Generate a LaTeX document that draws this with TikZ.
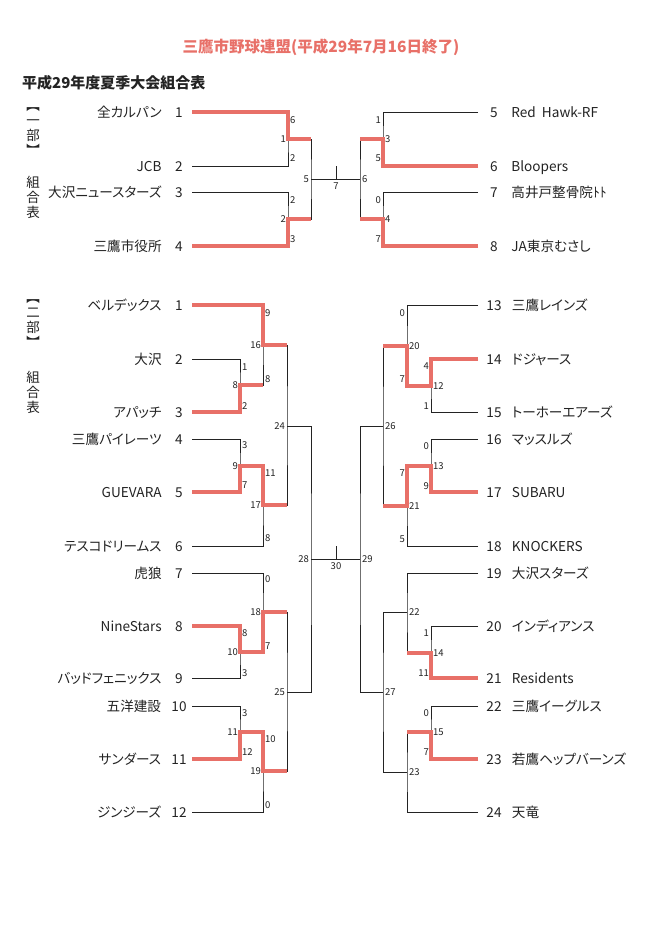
\documentclass[tikz,border=0pt]{standalone}
\usepackage{fontspec}
\setmainfont{Noto Sans CJK JP}
\newfontfamily\teamfont{Noto Sans CJK JP}[RawFeature=+palt]
\usetikzlibrary{positioning}
\definecolor{winred}{RGB}{232,112,104}
\definecolor{ink}{RGB}{35,35,35}

\begin{document}
\begin{tikzpicture}[x=1pt,y=-1pt,
  team/.style={font=\teamfont\fontsize{13.6}{15}\selectfont,text=ink,inner sep=0pt,text height=10.7pt,text depth=0.5pt},
  num/.style={team,minimum width=14pt},
  sc/.style={font=\fontsize{9.5}{10}\selectfont,text=ink,inner sep=1.8pt,text height=6.8pt,text depth=0pt},
  vlab/.style={font=\fontsize{13.5}{15}\selectfont,text=ink,align=center,inner sep=0pt},
  ln/.style={draw=ink,line width=0.9pt},
  win/.style={draw=winred,line width=4pt}]
  \useasboundingbox[fill=white] (0,0) rectangle (663,925);

  % headings
  \node[font=\fontsize{15.5}{17}\selectfont\bfseries,text=winred] (title) at (321,47) {三鷹市野球連盟(平成29年7月16日終了)};
  \node[font=\fontsize{15}{17}\selectfont\bfseries,text=ink,anchor=west,inner sep=0pt] (subtitle) at (22,83) {平成29年度夏季大会組合表};
  \node[vlab] (d1a) at (33,131.5) {︻\\一\\部\\︼};
  \node[vlab] (d1b) at (33,197.5) {組\\合\\表};
  \node[vlab] (d2a) at (33,323.5) {︻\\二\\部\\︼};
  \node[vlab] (d2b) at (33,392) {組\\合\\表};

  % division 1 teams
  \node[num] (a1) at (179,112) {1}; \node[team,left=10pt of a1] (ta1) {全カルパン};
  \node[num] (a2) at (179,166) {2}; \node[team,left=10pt of a2] (ta2) {JCB};
  \node[num] (a3) at (179,192) {3}; \node[team,left=10pt of a3] (ta3) {大沢ニュースターズ};
  \node[num] (a4) at (179,246) {4}; \node[team,left=10pt of a4] (ta4) {三鷹市役所};
  \node[num] (a5) at (494,112) {5}; \node[team,right=10pt of a5] (ta5) {Red\ \ Hawk-RF};
  \node[num] (a6) at (494,166) {6}; \node[team,right=10pt of a6] (ta6) {Bloopers};
  \node[num] (a7) at (494,192) {7}; \node[team,right=10pt of a7] (ta7) {高井戸整骨院ﾄﾄ};
  \node[num] (a8) at (494,246) {8}; \node[team,right=10pt of a8] (ta8) {JA東京むさし};

  \coordinate (ae1) at (192,112); \coordinate (ae2) at (192,166);
  \coordinate (ae3) at (192,192); \coordinate (ae4) at (192,246);
  \coordinate (ae5) at (478,112); \coordinate (ae6) at (478,166);
  \coordinate (ae7) at (478,192); \coordinate (ae8) at (478,246);
  \coordinate (aj12) at (288,139); \coordinate (aj34) at (288,219);
  \coordinate (aj56) at (383,139); \coordinate (aj78) at (383,219);
  \coordinate (ajL) at (311,179); \coordinate (ajR) at (360,179);
  \coordinate (amid) at (336,179); \coordinate (atop) at (336,166);

  \draw[ln] (ae1) -| (aj12) |- (ae2);
  \draw[ln] (ae3) -| (aj34) |- (ae4);
  \draw[ln] (aj12) -| (ajL) |- (aj34);
  \draw[ln] (ae5) -| (aj56) |- (ae6);
  \draw[ln] (ae7) -| (aj78) |- (ae8);
  \draw[ln] (aj56) -| (ajR) |- (aj78);
  \draw[ln] (ajL) -- (ajR);
  \draw[ln] (amid) -- (atop);

  \draw[win] (ae1) -| (aj12) -- (aj12 -| ajL);
  \draw[win] (ae4) -| (aj34) -- (aj34 -| ajL);
  \draw[win] (ae6) -| (aj56) -- (aj56 -| ajR);
  \draw[win] (ae8) -| (aj78) -- (aj78 -| ajR);

  \node[sc,anchor=west] (as1) at (288,120) {6};
  \node[sc,anchor=east] (as2) at (288,139) {1};
  \node[sc,anchor=west] (as3) at (288,158) {2};
  \node[sc,anchor=west] (as4) at (288,200) {2};
  \node[sc,anchor=east] (as5) at (288,219) {2};
  \node[sc,anchor=west] (as6) at (288,239) {3};
  \node[sc,anchor=east] (as7) at (311,179) {5};
  \node[sc] (as8) at (336,186) {7};
  \node[sc,anchor=west] (as9) at (360,179) {6};
  \node[sc,anchor=east] (as10) at (383,120) {1};
  \node[sc,anchor=west] (as11) at (383,139) {3};
  \node[sc,anchor=east] (as12) at (383,158) {5};
  \node[sc,anchor=east] (as13) at (383,200) {0};
  \node[sc,anchor=west] (as14) at (383,219) {4};
  \node[sc,anchor=east] (as15) at (383,239) {7};

  % division 2 teams
  \node[num] (b1) at (179,305) {1}; \node[team,left=10pt of b1] (tb1) {ベルデックス};
  \node[num] (b2) at (179,359) {2}; \node[team,left=10pt of b2] (tb2) {大沢};
  \node[num] (b3) at (179,412) {3}; \node[team,left=10pt of b3] (tb3) {アパッチ};
  \node[num] (b4) at (179,439) {4}; \node[team,left=10pt of b4] (tb4) {三鷹パイレーツ};
  \node[num] (b5) at (179,492) {5}; \node[team,left=10pt of b5] (tb5) {GUEVARA};
  \node[num] (b6) at (179,546) {6}; \node[team,left=10pt of b6] (tb6) {テスコドリームス};
  \node[num] (b7) at (179,573) {7}; \node[team,left=10pt of b7] (tb7) {虎狼};
  \node[num] (b8) at (179,626) {8}; \node[team,left=10pt of b8] (tb8) {NineStars};
  \node[num] (b9) at (179,678) {9}; \node[team,left=10pt of b9] (tb9) {バッドフェニックス};
  \node[num] (b10) at (179,706) {10}; \node[team,left=10pt of b10] (tb10) {五洋建設};
  \node[num] (b11) at (179,759) {11}; \node[team,left=10pt of b11] (tb11) {サンダース};
  \node[num] (b12) at (179,812) {12}; \node[team,left=10pt of b12] (tb12) {ジンジーズ};
  \node[num] (b13) at (494,305) {13}; \node[team,right=10pt of b13] (tb13) {三鷹レインズ};
  \node[num] (b14) at (494,359) {14}; \node[team,right=10pt of b14] (tb14) {ドジャース};
  \node[num] (b15) at (494,412) {15}; \node[team,right=10pt of b15] (tb15) {トーホーエアーズ};
  \node[num] (b16) at (494,439) {16}; \node[team,right=10pt of b16] (tb16) {マッスルズ};
  \node[num] (b17) at (494,492) {17}; \node[team,right=10pt of b17] (tb17) {SUBARU};
  \node[num] (b18) at (494,546) {18}; \node[team,right=10pt of b18] (tb18) {KNOCKERS};
  \node[num] (b19) at (494,573) {19}; \node[team,right=10pt of b19] (tb19) {大沢スターズ};
  \node[num] (b20) at (494,626) {20}; \node[team,right=10pt of b20] (tb20) {インディアンス};
  \node[num] (b21) at (494,678) {21}; \node[team,right=10pt of b21] (tb21) {Residents};
  \node[num] (b22) at (494,706) {22}; \node[team,right=10pt of b22] (tb22) {三鷹イーグルス};
  \node[num] (b23) at (494,759) {23}; \node[team,right=10pt of b23] (tb23) {若鷹ヘップバーンズ};
  \node[num] (b24) at (494,812) {24}; \node[team,right=10pt of b24] (tb24) {天竜};

  \coordinate (be1) at (192,305); \coordinate (be2) at (192,359);
  \coordinate (be3) at (192,412); \coordinate (be4) at (192,439);
  \coordinate (be5) at (192,492); \coordinate (be6) at (192,546);
  \coordinate (be7) at (192,573); \coordinate (be8) at (192,626);
  \coordinate (be9) at (192,678); \coordinate (be10) at (192,706);
  \coordinate (be11) at (192,759); \coordinate (be12) at (192,812);
  \coordinate (be13) at (478,305); \coordinate (be14) at (478,359);
  \coordinate (be15) at (478,412); \coordinate (be16) at (478,439);
  \coordinate (be17) at (478,492); \coordinate (be18) at (478,546);
  \coordinate (be19) at (478,573); \coordinate (be20) at (478,626);
  \coordinate (be21) at (478,678); \coordinate (be22) at (478,706);
  \coordinate (be23) at (478,759); \coordinate (be24) at (478,812);
  \coordinate (bj23) at (240,385); \coordinate (bj123) at (263,345);
  \coordinate (bj45) at (240,466); \coordinate (bj456) at (263,505);
  \coordinate (bjA) at (287,426);
  \coordinate (bj89) at (240,652); \coordinate (bj789) at (263,612);
  \coordinate (bj1011) at (240,732); \coordinate (bj1012) at (263,771);
  \coordinate (bjB) at (287,692);
  \coordinate (bjL) at (311,559);
  \coordinate (bj1415) at (431,386); \coordinate (bj1315) at (407,346);
  \coordinate (bj1617) at (431,466); \coordinate (bj1618) at (407,506);
  \coordinate (bjC) at (383,426);
  \coordinate (bj2021) at (431,653); \coordinate (bj1921) at (407,612);
  \coordinate (bj2223) at (431,732); \coordinate (bj2224) at (407,772);
  \coordinate (bjD) at (383,692);
  \coordinate (bjR) at (360,559);
  \coordinate (bmid) at (336,559); \coordinate (btop) at (336,546);

  \draw[ln] (be2) -| (bj23) |- (be3);
  \draw[ln] (be1) -| (bj123) |- (bj23);
  \draw[ln] (be4) -| (bj45) |- (be5);
  \draw[ln] (be6) -| (bj456) |- (bj45);
  \draw[ln] (bj123) -| (bjA) |- (bj456);
  \draw[ln] (be8) -| (bj89) |- (be9);
  \draw[ln] (be7) -| (bj789) |- (bj89);
  \draw[ln] (be10) -| (bj1011) |- (be11);
  \draw[ln] (be12) -| (bj1012) |- (bj1011);
  \draw[ln] (bj789) -| (bjB) |- (bj1012);
  \draw[ln] (bjA) -| (bjL) |- (bjB);
  \draw[ln] (be14) -| (bj1415) |- (be15);
  \draw[ln] (be13) -| (bj1315) |- (bj1415);
  \draw[ln] (be16) -| (bj1617) |- (be17);
  \draw[ln] (be18) -| (bj1618) |- (bj1617);
  \draw[ln] (bj1315) -| (bjC) |- (bj1618);
  \draw[ln] (be20) -| (bj2021) |- (be21);
  \draw[ln] (be19) -| (bj1921) |- (bj2021);
  \draw[ln] (be22) -| (bj2223) |- (be23);
  \draw[ln] (be24) -| (bj2224) |- (bj2223);
  \draw[ln] (bj1921) -| (bjD) |- (bj2224);
  \draw[ln] (bjC) -| (bjR) |- (bjD);
  \draw[ln] (bjL) -- (bjR);
  \draw[ln] (bmid) -- (btop);

  \draw[win] (be1) -| (bj123) -- (bj123 -| bjA);
  \draw[win] (be3) -| (bj23) -- (bj23 -| bj123);
  \draw[win] (be5) -| (bj45) -| (bj456) -- (bj456 -| bjA);
  \draw[win] (be8) -| (bj89) -| (bj789) -- (bj789 -| bjB);
  \draw[win] (be11) -| (bj1011) -| (bj1012) -- (bj1012 -| bjB);
  \draw[win] (be14) -| (bj1415) -| (bj1315) -- (bj1315 -| bjC);
  \draw[win] (be17) -| (bj1617) -| (bj1618) -- (bj1618 -| bjC);
  \draw[win] (be21) -| (bj2021) -- (bj2021 -| bj1921);
  \draw[win] (be23) -| (bj2223) -- (bj2223 -| bj2224);

  % scores, left half
  \node[sc,anchor=west] (bs1) at (263,313) {9};
  \node[sc,anchor=east] (bs2) at (263,345) {16};
  \node[sc,anchor=west] (bs3) at (263,379) {8};
  \node[sc,anchor=west] (bs4) at (240,367) {1};
  \node[sc,anchor=east] (bs5) at (240,385) {8};
  \node[sc,anchor=west] (bs6) at (240,406) {2};
  \node[sc,anchor=east] (bs7) at (287,426) {24};
  \node[sc,anchor=west] (bs8) at (240,445) {3};
  \node[sc,anchor=east] (bs9) at (240,466) {9};
  \node[sc,anchor=west] (bs10) at (240,485) {7};
  \node[sc,anchor=west] (bs11) at (263,473) {11};
  \node[sc,anchor=east] (bs12) at (263,505) {17};
  \node[sc,anchor=west] (bs13) at (263,538) {8};
  \node[sc,anchor=east] (bs14) at (311,559) {28};
  \node[sc] (bs15) at (336,566) {30};
  \node[sc,anchor=west] (bs16) at (263,579) {0};
  \node[sc,anchor=east] (bs17) at (263,612) {18};
  \node[sc,anchor=west] (bs18) at (263,646) {7};
  \node[sc,anchor=west] (bs19) at (240,633) {8};
  \node[sc,anchor=east] (bs20) at (240,652) {10};
  \node[sc,anchor=west] (bs21) at (240,673) {3};
  \node[sc,anchor=east] (bs22) at (287,692) {25};
  \node[sc,anchor=west] (bs23) at (240,713) {3};
  \node[sc,anchor=east] (bs24) at (240,732) {11};
  \node[sc,anchor=west] (bs25) at (240,752) {12};
  \node[sc,anchor=west] (bs26) at (263,739) {10};
  \node[sc,anchor=east] (bs27) at (263,771) {19};
  \node[sc,anchor=west] (bs28) at (263,805) {0};
  % scores, right half
  \node[sc,anchor=east] (bs29) at (407,313) {0};
  \node[sc,anchor=west] (bs30) at (407,346) {20};
  \node[sc,anchor=east] (bs31) at (407,379) {7};
  \node[sc,anchor=east] (bs32) at (431,366) {4};
  \node[sc,anchor=west] (bs33) at (431,386) {12};
  \node[sc,anchor=east] (bs34) at (431,406) {1};
  \node[sc,anchor=west] (bs35) at (383,426) {26};
  \node[sc,anchor=east] (bs36) at (431,446) {0};
  \node[sc,anchor=west] (bs37) at (431,466) {13};
  \node[sc,anchor=east] (bs38) at (431,486) {9};
  \node[sc,anchor=east] (bs39) at (407,473) {7};
  \node[sc,anchor=west] (bs40) at (407,506) {21};
  \node[sc,anchor=east] (bs41) at (407,539) {5};
  \node[sc,anchor=west] (bs42) at (360,559) {29};
  \node[sc,anchor=west] (bs43) at (407,612) {22};
  \node[sc,anchor=east] (bs44) at (431,633) {1};
  \node[sc,anchor=west] (bs45) at (431,653) {14};
  \node[sc,anchor=east] (bs46) at (431,673) {11};
  \node[sc,anchor=west] (bs47) at (383,692) {27};
  \node[sc,anchor=east] (bs48) at (431,713) {0};
  \node[sc,anchor=west] (bs49) at (431,732) {15};
  \node[sc,anchor=east] (bs50) at (431,752) {7};
  \node[sc,anchor=west] (bs51) at (407,772) {23};
\end{tikzpicture}
\end{document}
